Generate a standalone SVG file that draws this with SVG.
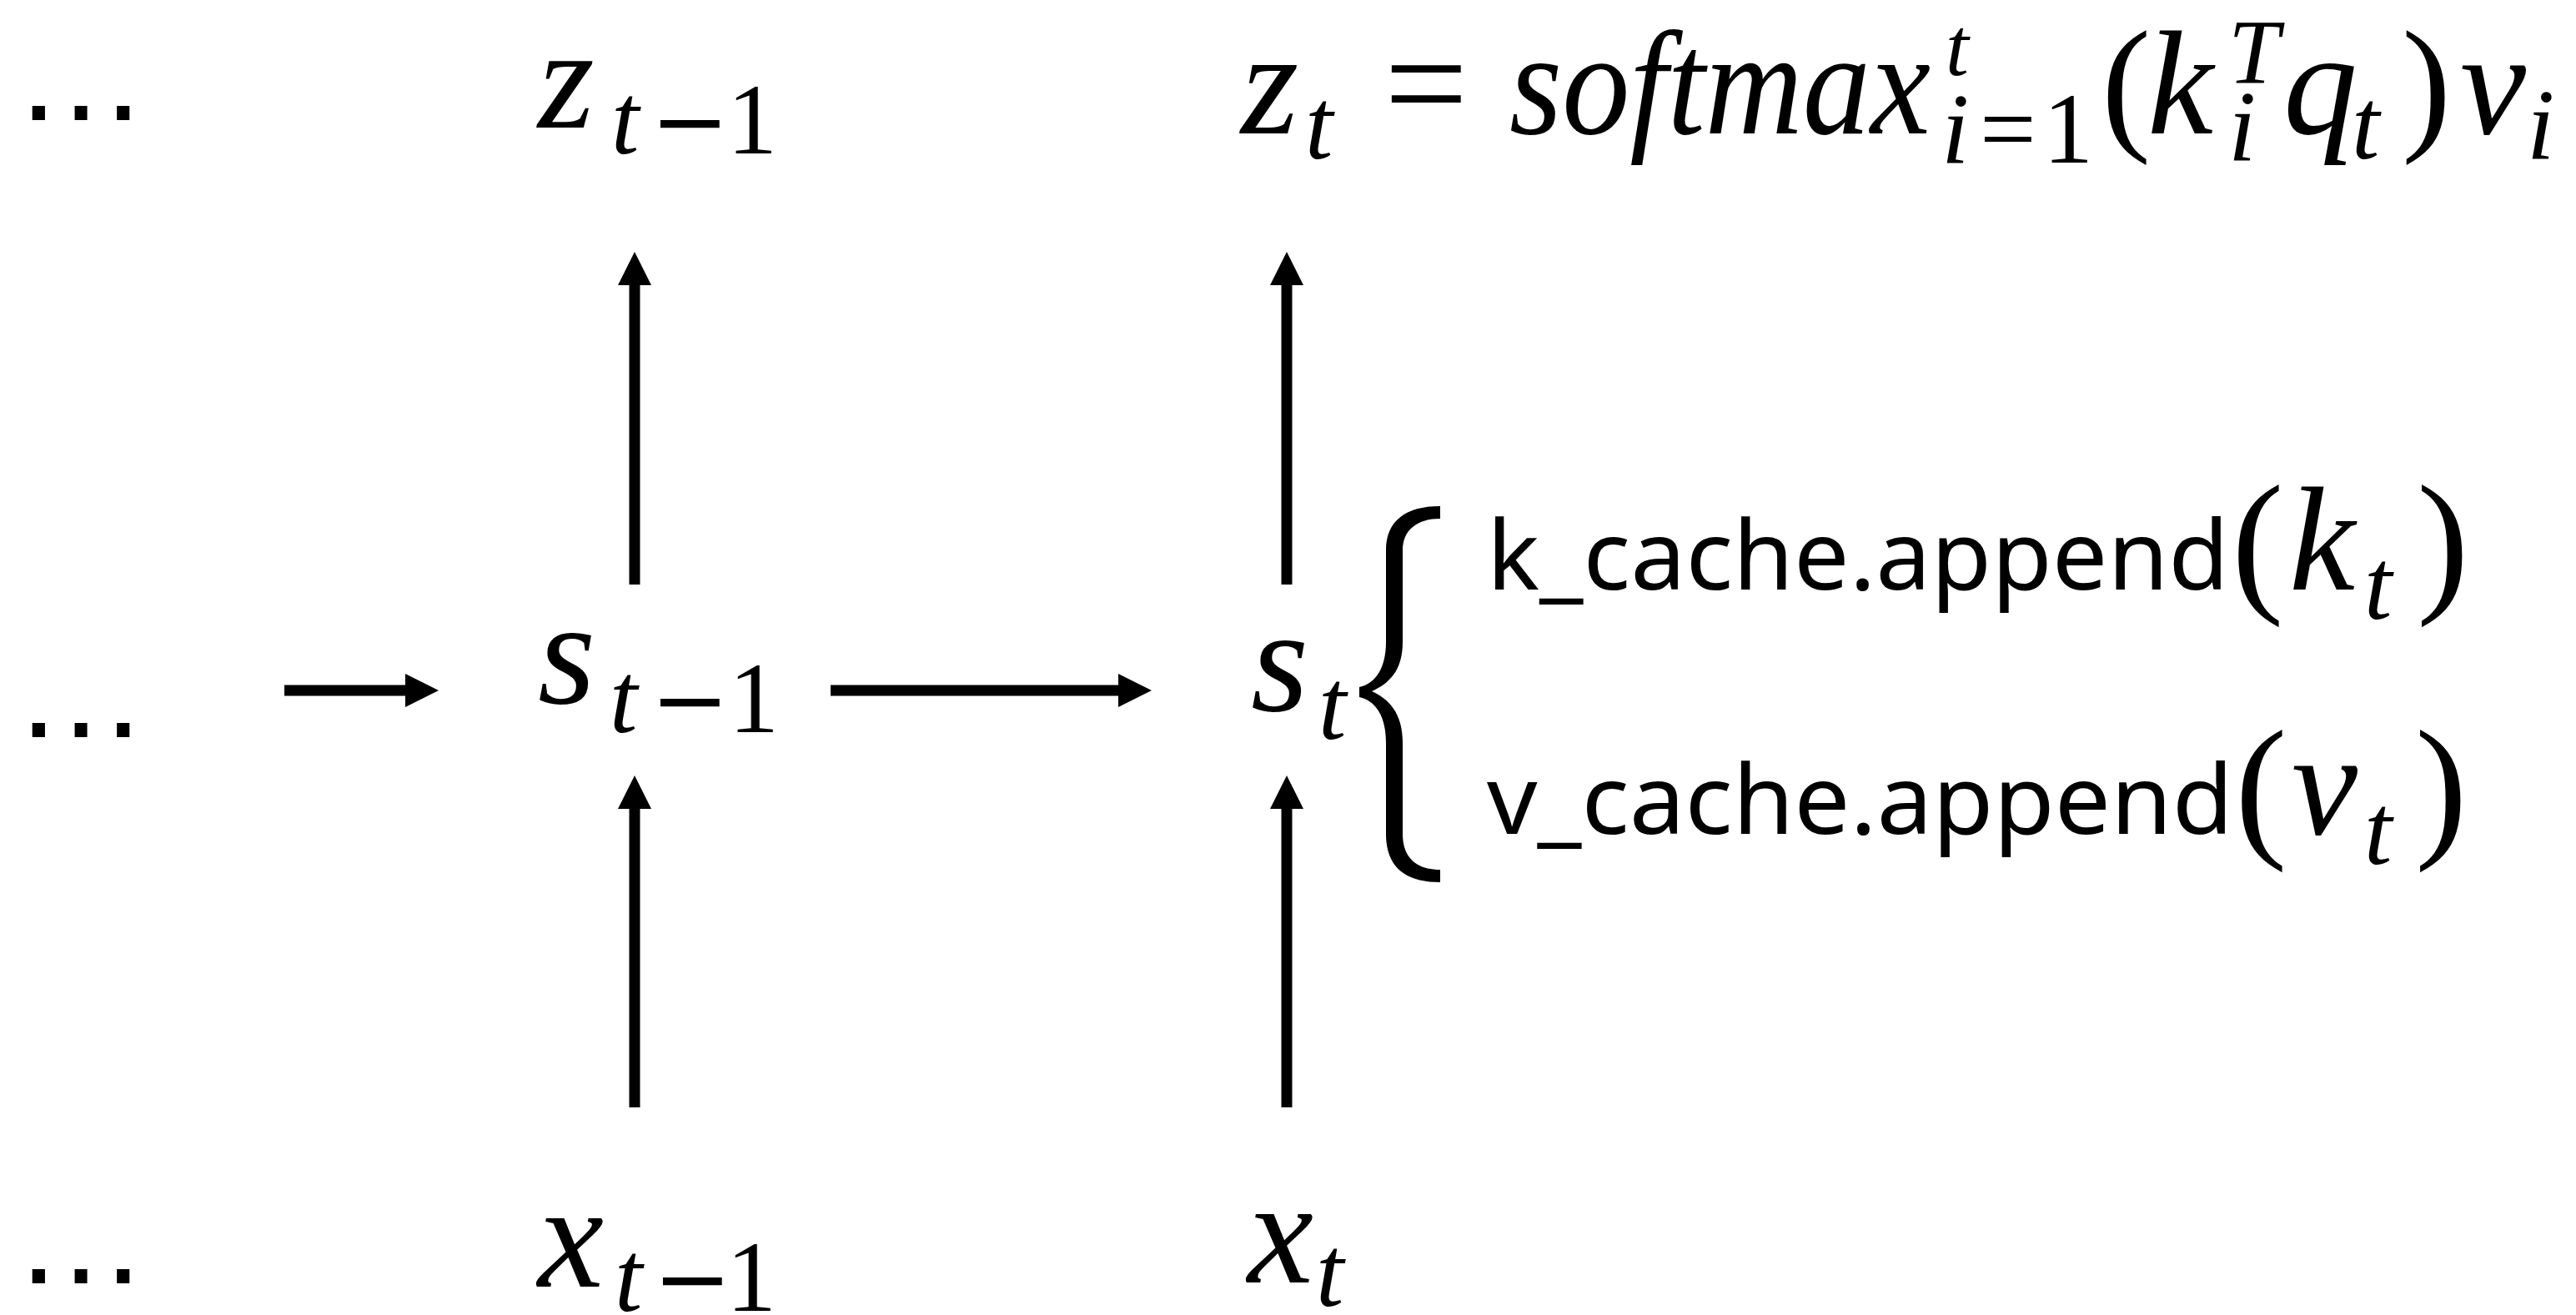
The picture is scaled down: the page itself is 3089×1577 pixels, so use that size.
<svg xmlns="http://www.w3.org/2000/svg" width="3089" height="1577" viewBox="0 0 3089 1577">
<style>
text{fill:#000}
.mi{font-family:"Liberation Serif",serif;font-style:italic;font-size:178px}
.mn{font-family:"Liberation Serif",serif;font-size:178px}
.sb{font-size:120px}
.mm{font-family:"DejaVu Sans",sans-serif;font-size:113px}
.code{font-family:"Noto Sans",sans-serif;font-size:115px}
.dots{font-family:"Liberation Sans",sans-serif;font-size:160px}
.arr{stroke:#000;stroke-width:13;fill:none}
</style>
<defs>
<marker id="ah" markerUnits="userSpaceOnUse" markerWidth="40" markerHeight="40" refX="0" refY="20" orient="auto">
<path d="M0,0 L40,20 L0,40 Z" fill="#000"/>
</marker>
</defs>
<rect width="3089" height="1577" fill="#fff"/>

<g id="dots-top"><text class="dots" x="17" y="144">…</text></g>
<g id="dots-mid"><text class="dots" x="17" y="884">…</text></g>
<g id="dots-bot"><text class="dots" x="17" y="1539">…</text></g>

<g id="z_t-1">
<text class="mi" x="645" y="153" style="font-size:174px">z</text>
<text class="mi sb" x="733" y="184">t</text>
<text class="mm" x="780" y="184">−</text>
<text class="mn sb" x="872" y="184">1</text>
</g>

<g id="z_t">
<text class="mi" x="1488" y="160">z</text>
<text class="mi sb" x="1565" y="190">t</text>
<text class="mn" x="1660" y="160">=</text>
<text class="mi" x="1810" y="160" textLength="505" lengthAdjust="spacingAndGlyphs">softmax</text>
<text class="mi" x="2333" y="90" style="font-size:100px">t</text>
<text class="mi sb" x="2328" y="195">i</text>
<text class="mn sb" x="2374" y="195">=</text>
<text class="mn sb" x="2450" y="195">1</text>
<text class="mn" x="2520" y="160">(</text>
<text class="mi" x="2575" y="160">k</text>
<text class="mi" x="2672" y="100" style="font-size:110px">T</text>
<text class="mi sb" x="2672" y="192">i</text>
<text class="mi" x="2738" y="160">q</text>
<text class="mi sb" x="2820" y="190">t</text>
<text class="mn" x="2880" y="160">)</text>
<text class="mi" x="2950" y="160">v</text>
<text class="mi sb" x="3030" y="190">i</text>
</g>

<g id="s_t-1">
<text class="mi" x="645" y="843">s</text>
<text class="mi sb" x="731" y="878">t</text>
<text class="mm" x="780" y="878">−</text>
<text class="mn sb" x="874" y="878">1</text>
</g>

<g id="s_t">
<text class="mi" x="1500" y="852">s</text>
<text class="mi sb" x="1581" y="886">t</text>
</g>

<g id="x_t-1">
<text class="mi" x="645" y="1543">x</text>
<text class="mi sb" x="737" y="1572">t</text>
<text class="mm" x="783" y="1572">−</text>
<text class="mn sb" x="871" y="1572">1</text>
</g>

<g id="x_t">
<text class="mi" x="1496" y="1538">x</text>
<text class="mi sb" x="1578" y="1566">t</text>
</g>

<g id="cache">
<path d="M1727,607 L1727,622 C1700,622 1682,635 1682,660 L1682,770 C1682,805 1665,820 1645,829 C1665,838 1682,855 1682,890 L1682,1000 C1682,1030 1700,1043 1727,1043 L1727,1058 C1685,1058 1662,1040 1662,1000 L1662,890 C1662,860 1650,840 1630,836 L1630,824 C1650,820 1662,800 1662,770 L1662,660 C1662,625 1685,607 1727,607 Z" fill="#000"/>
<text class="code" x="1783" y="707" textLength="890" lengthAdjust="spacingAndGlyphs">k_cache.append</text>
<text class="mn" x="2676" y="712" style="font-size:188px">(</text>
<text class="mi" x="2745" y="707">k</text>
<text class="mi sb" x="2835" y="742">t</text>
<text class="mn" x="2898" y="712" style="font-size:188px">)</text>
<text class="code" x="1783" y="1000" textLength="895" lengthAdjust="spacingAndGlyphs">v_cache.append</text>
<text class="mn" x="2680" y="1006" style="font-size:188px">(</text>
<text class="mi" x="2748" y="1000">v</text>
<text class="mi sb" x="2835" y="1036">t</text>
<text class="mn" x="2896" y="1006" style="font-size:188px">)</text>
</g>

<g id="connectors">
<line class="arr" x1="761" y1="701" x2="761" y2="342" marker-end="url(#ah)"/>
<line class="arr" x1="1543" y1="701" x2="1543" y2="342" marker-end="url(#ah)"/>
<line class="arr" x1="761" y1="1328" x2="761" y2="970" marker-end="url(#ah)"/>
<line class="arr" x1="1543" y1="1328" x2="1543" y2="970" marker-end="url(#ah)"/>
<line class="arr" x1="341" y1="828" x2="486" y2="828" marker-end="url(#ah)"/>
<line class="arr" x1="996" y1="828" x2="1341" y2="828" marker-end="url(#ah)"/>
</g>
</svg>
